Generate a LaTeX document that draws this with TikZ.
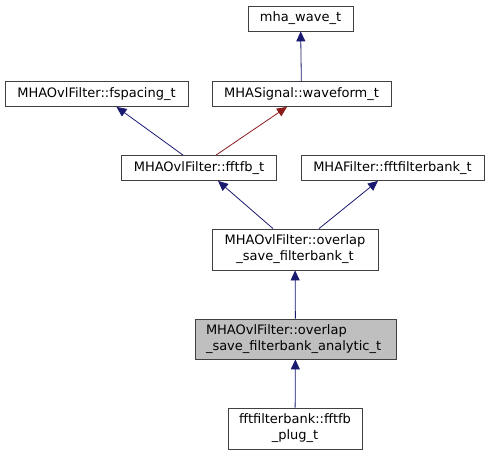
\documentclass[tikz,border=0pt]{standalone}
\usepackage{fontspec}
\setmainfont{DejaVu Sans}
\usetikzlibrary{arrows.meta}
\definecolor{edgeblue}{HTML}{191970}
\definecolor{edgered}{HTML}{8B1A1A}
\definecolor{boxgray}{HTML}{BFBFBF}
\begin{document}
\begin{tikzpicture}[x=1pt,y=-1pt]
                        \tikzstyle{cls}=[draw=black!75,fill=white,line width=0.8pt,inner sep=0pt,minimum height=25pt,font=\fontsize{13}{16}\selectfont,align=center]
                        \tikzstyle{inh}=[draw=edgeblue,line width=0.8pt,-{Triangle[length=10pt,width=9pt]}]
                        \tikzstyle{inhpriv}=[draw=edgered,line width=0.8pt,-{Triangle[length=10pt,width=9pt]}]
                        \useasboundingbox (0,0) rectangle (489,455);
                        % classes
                        \node[cls,minimum width=105pt] (wave) at (300.5,18.5) {mha\_wave\_t};
                        \node[cls,minimum width=183pt] (fspacing) at (96.5,94) {MHAOvlFilter::fspacing\_t};
                        \node[cls,minimum width=179pt] (waveform) at (301.5,94) {MHASignal::waveform\_t};
                        \node[cls,minimum width=155pt] (fftfb) at (199,168) {MHAOvlFilter::fftfb\_t};
                        \node[cls,minimum width=183pt] (fftfilterbank) at (392.5,168) {MHAFilter::fftfilterbank\_t};
                        \node[cls,minimum width=166pt,minimum height=41pt] (overlap) at (295,249.5) {MHAOvlFilter::overlap\\\_save\_filterbank\_t};
                        \node[cls,fill=boxgray,minimum width=201pt,minimum height=40pt,align=left,text width=179pt] (analytic) at (295.5,339) {MHAOvlFilter::overlap\\\_save\_filterbank\_analytic\_t};
                        \node[cls,minimum width=134pt,minimum height=41pt] (plug) at (295,428.5) {fftfilterbank::fftfb\\\_plug\_t};
                        % inheritance
                        \draw[inh] (waveform) -- (wave);
                        \draw[inh] ([xshift=-16pt]fftfb.north) -- ([xshift=20pt]fspacing.south);
                        \draw[inhpriv] ([xshift=17pt]fftfb.north) -- ([xshift=-14.5pt]waveform.south);
                        \draw[inh] ([xshift=-22pt]overlap.north) -- ([xshift=19pt]fftfb.south);
                        \draw[inh] ([xshift=24pt]overlap.north) -- ([xshift=-14.5pt]fftfilterbank.south);
                        \draw[inh] (analytic) -- (overlap);
                        \draw[inh] (plug) -- (analytic);
\end{tikzpicture}
\end{document}
